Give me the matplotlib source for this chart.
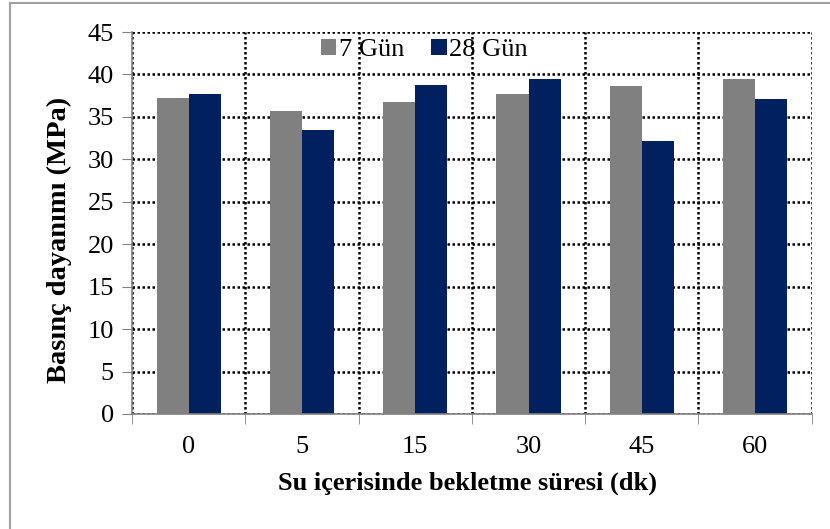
import matplotlib.pyplot as plt
from matplotlib.lines import Line2D
import numpy as np

plt.rcParams['font.family'] = ['Liberation Serif', 'DejaVu Serif']

sureler = ['0', '5', '15', '30', '45', '60']
gun7 = [37.25, 35.7, 36.8, 37.7, 38.6, 39.5]
gun28 = [37.7, 33.45, 38.8, 39.5, 32.2, 37.1]
yticks = [0, 5, 10, 15, 20, 25, 30, 35, 40, 45]

gri = '#808080'
lacivert = '#002060'

fig = plt.figure(figsize=(8.3, 5.29), dpi=100)
ax = fig.add_axes([0.159, 0.2174, 0.819, 0.7221])

x = np.arange(len(sureler))
w = 0.283
ax.bar(x - w / 2, gun7, w, color=gri, label='7 Gün', zorder=3)
ax.bar(x + w / 2, gun28, w, color=lacivert, label='28 Gün', zorder=3)

ax.set_xlim(-0.5, len(sureler) - 0.5)
ax.set_ylim(0, 45)
ax.set_yticks(yticks)
ax.set_xticks(x)
ax.set_xticklabels(sureler)
ax.set_xticks(np.arange(-0.5, len(sureler), 1), minor=True)

ax.tick_params(axis='x', which='major', length=0, labelsize=19, pad=16)
ax.tick_params(axis='x', which='minor', length=7, color=gri, direction='out')
ax.tick_params(axis='y', length=7, color=gri, direction='out', labelsize=19, pad=6)

ax.grid(axis='y', color='black', linestyle=(0, (1, 1)), linewidth=1.8, zorder=1)
ax.grid(axis='x', which='minor', color='black', linestyle=(0, (1, 1)), linewidth=1.8, zorder=1)
ax.grid(axis='x', which='major', visible=False)

for s in ['top', 'right']:
    ax.spines[s].set_visible(False)
for s in ['left', 'bottom']:
    ax.spines[s].set_color(gri)
    ax.spines[s].set_linewidth(1.2)
    ax.spines[s].set_zorder(4)

ax.set_xlabel('Su içerisinde bekletme süresi (dk)', fontsize=19, fontweight='bold')
ax.set_ylabel('Basınç dayanımı (MPa)', fontsize=20.5, fontweight='bold')
ax.xaxis.set_label_coords(0.493, -0.15)
ax.yaxis.set_label_coords(-0.088, 0.455)

ax.legend(loc='upper center', bbox_to_anchor=(0.43, 1.045), ncol=2, frameon=False,
          fontsize=19, handlelength=0.6, handleheight=0.6, handletextpad=0.1,
          columnspacing=1.0)

# dis cerceve (sol ve ust)
fig.add_artist(Line2D([0.012, 0.012], [0, 0.994], color='#a0a0a0', lw=1.5,
                      transform=fig.transFigure))
fig.add_artist(Line2D([0.012, 1], [0.994, 0.994], color='#a0a0a0', lw=1.5,
                      transform=fig.transFigure))

plt.savefig('out.png', dpi=100)
